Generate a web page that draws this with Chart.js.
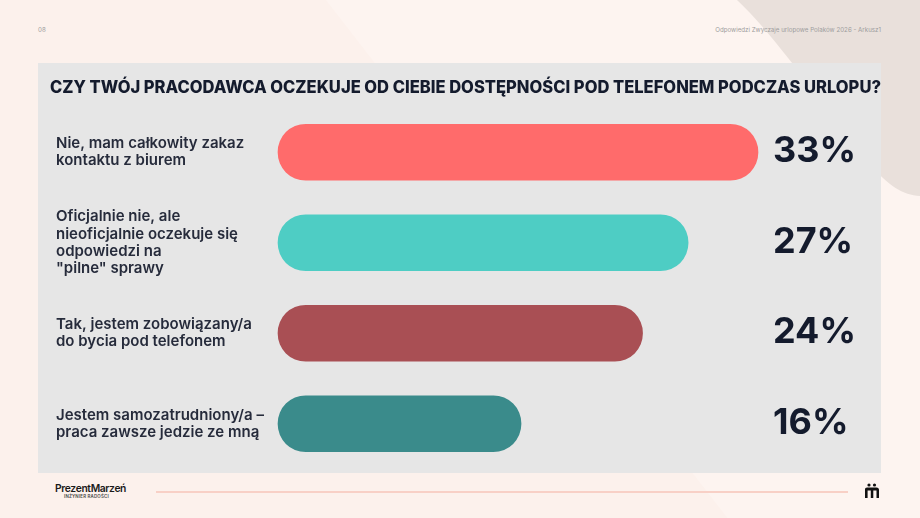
<!DOCTYPE html>
<html>
<head>
<meta charset="utf-8">
<script src="https://cdn.jsdelivr.net/npm/chart.js@4.4.1/dist/chart.umd.min.js"></script>
<style>
html,body{margin:0;padding:0;width:920px;height:518px;overflow:hidden;background:#fcf1ec;font-family:Inter,"Noto Sans",sans-serif;}
#bg{position:absolute;left:0;top:0;}
.hdr{position:absolute;top:25px;font-size:6.2px;line-height:10px;color:#9d9d9d;white-space:nowrap;}
#panel{position:absolute;left:38px;top:63px;width:843px;height:410px;background:#e6e6e6;}
#title{position:absolute;left:12px;top:16px;white-space:nowrap;font-weight:800;font-size:17px;line-height:17px;color:#141b2d;transform-origin:0 0;}
#chart{position:absolute;left:0;top:0;}
#logo{position:absolute;left:55px;top:482px;font-weight:600;font-size:10.3px;line-height:12px;color:#1a1a1a;letter-spacing:-0.35px;white-space:nowrap;}
#logosub{position:absolute;left:64px;top:494px;font-weight:600;font-size:4.4px;line-height:6px;color:#444;letter-spacing:0.2px;white-space:nowrap;}
#rule{position:absolute;left:156px;top:490.5px;width:692px;height:2px;background:#f8d0c6;}
#icon{position:absolute;left:863px;top:483px;}
</style>
</head>
<body>
<svg id="bg" width="920" height="518">
  <path d="M326,0 L760,560 L920,560 L920,0 Z" fill="#fdf4f0"/>
  <path d="M737,0 C775,35 830,115 868,162 C888,186 903,195 920,196 L920,0 Z" fill="#e9e0db"/>
</svg>
<div class="hdr" style="left:38px;">08</div>
<div class="hdr" id="hdrR" style="right:39px;">Odpowiedzi Zwyczaje urlopowe Polaków 2026 - Arkusz1</div>
<div id="panel">
  <canvas id="chart" width="843" height="410"></canvas>
  <div id="title">CZY TWÓJ PRACODAWCA OCZEKUJE OD CIEBIE DOSTĘPNOŚCI POD TELEFONEM PODCZAS URLOPU?</div>
</div>
<div id="logo">PrezentMarzeń</div>
<div id="logosub">INŻYNIER RADOŚCI</div>
<div id="rule"></div>
<svg id="icon" width="18" height="16" viewBox="0 0 18 16">
  <circle cx="6" cy="2" r="1.6" fill="#111"/>
  <circle cx="11.5" cy="2" r="1.6" fill="#111"/>
  <path d="M2,15 L2,6 Q2,4.5 4,4.5 L13.5,4.5 Q16,4.5 16,7 L16,15 L13.5,15 L13.5,7.5 L10.3,7.5 L10.3,15 L7.8,15 L7.8,7.5 L4.6,7.5 L4.6,15 Z" fill="#111"/>
</svg>
<script>
// ---- data ----
const categories = [
  ["Nie, mam całkowity zakaz", "kontaktu z biurem"],
  ["Oficjalnie nie, ale", "nieoficjalnie oczekuje się", "odpowiedzi na", "\"pilne\" sprawy"],
  ["Tak, jestem zobowiązany/a", "do bycia pod telefonem"],
  ["Jestem samozatrudniony/a –", "praca zawsze jedzie ze mną"]
];
const values = [33, 27, 24, 16];
const valueLabels = ["33%", "27%", "24%", "16%"];
const barColors = ["#ff6b6b", "#4ecdc4", "#a94f54", "#3a8b8b"];
const axisMax = 31.6; // longest bar is capped at the plot edge

// fit title to panel width
(function(){
  const t = document.getElementById('title');
  const w = t.getBoundingClientRect().width;
  const target = 831;
  t.style.transform = 'scaleX(' + (target / w) + ')';
})();

const capBars = {
  id: 'capBars',
  beforeDatasetsDraw(chart) {
    const r = chart.chartArea.right;
    chart.getDatasetMeta(0).data.forEach(el => { if (el.x > r) el.x = r; });
  }
};
const valueText = {
  id: 'valueText',
  afterDatasetsDraw(chart) {
    const ctx = chart.ctx;
    const meta = chart.getDatasetMeta(0);
    ctx.save();
    ctx.font = '700 36px Inter, sans-serif';
    ctx.fillStyle = '#141b2d';
    ctx.textAlign = 'left';
    ctx.textBaseline = 'alphabetic';
    meta.data.forEach((el, i) => {
      ctx.fillText(valueLabels[i], chart.chartArea.right + 15, el.y + 10);
    });
    ctx.restore();
  }
};

new Chart(document.getElementById('chart'), {
  type: 'bar',
  data: {
    labels: categories,
    datasets: [{
      data: values,
      backgroundColor: barColors,
      borderRadius: 28,
      borderSkipped: false,
      barThickness: 56,
      clip: false
    }]
  },
  options: {
    indexAxis: 'y',
    responsive: false,
    animation: false,
    events: [],
    layout: { padding: { left: 18, right: 123, top: 44, bottom: 4 } },
    plugins: { legend: { display: false }, tooltip: { enabled: false }, title: { display: false } },
    scales: {
      x: { min: 0, max: axisMax, display: false },
      y: {
        grid: { display: false },
        border: { display: false },
        ticks: {
          crossAlign: 'far',
          padding: 0,
          color: '#262b3b',
          font: { family: 'Inter', size: 15, weight: 600, lineHeight: 1.15 }
        },
        afterFit(scale) { scale.width = 222; scale.paddingTop = 0; scale.paddingBottom = 0; }
      }
    }
  },
  plugins: [capBars, valueText]
});
</script>
</body>
</html>
